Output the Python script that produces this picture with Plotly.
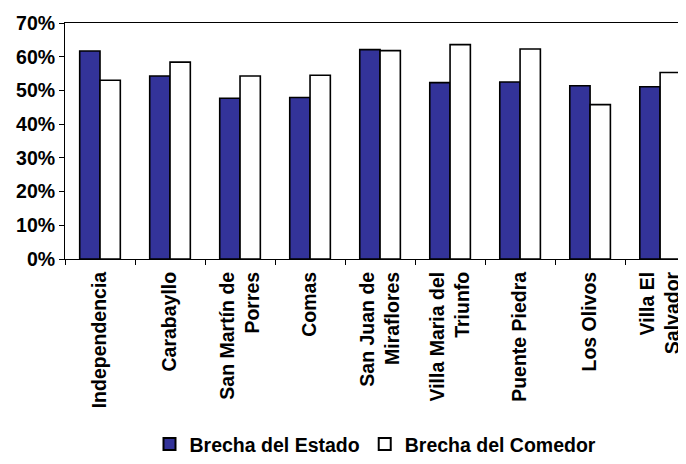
import plotly.graph_objects as go

distritos = [
    "Independencia", "Carabayllo", "San Martín de<br>Porres", "Comas",
    "San Juan de<br>Miraflores", "Villa Maria del<br>Triunfo", "Puente Piedra",
    "Los Olivos", "Villa El<br>Salvador",
]
brecha_estado = [0.617, 0.543, 0.477, 0.479, 0.621, 0.523, 0.525, 0.514, 0.511]
brecha_comedor = [0.530, 0.584, 0.543, 0.545, 0.618, 0.636, 0.623, 0.458, 0.553]

AZUL = "#333399"
FONT = "Liberation Sans, Arial, sans-serif"
BOLD = dict(family=FONT, size=19.5, color="black", weight="bold")

fig = go.Figure()
fig.add_trace(go.Bar(
    x=distritos, y=brecha_estado, name="Brecha del Estado",
    marker=dict(color=AZUL, line=dict(color="black", width=1.6)),
))
fig.add_trace(go.Bar(
    x=distritos, y=brecha_comedor, name="Brecha del Comedor",
    marker=dict(color="white", line=dict(color="black", width=1.6)),
))

# la pagina tiene 8px de margen en el body: se compensa aqui
fig.update_layout(
    width=678, height=456,
    margin=dict(l=57, r=0, t=15, b=199),
    paper_bgcolor="white", plot_bgcolor="white",
    barmode="group", bargap=0.42, bargroupgap=0,
    font=dict(family=FONT, size=19.5, color="black"),
    showlegend=True,
    legend=dict(
        orientation="h", x=0.5, xanchor="center", y=-0.785, yanchor="middle",
        font=BOLD, itemwidth=30, tracegroupgap=0,
        itemsizing="constant",
    ),
)
fig.update_xaxes(
    range=[-0.5, 8.37],
    tickangle=-90,
    tickfont=BOLD,
    ticklabelstandoff=4,
    showline=True, linecolor="black", linewidth=1, mirror=True,
    ticks="outside", ticklen=5, tickcolor="black", tickson="boundaries",
    showgrid=False, automargin=False,
)
fig.update_yaxes(
    range=[0, 0.7], dtick=0.1, tickformat=".0%",
    tickfont=BOLD,
    showline=True, linecolor="black", linewidth=1, mirror=True,
    ticks="outside", ticklen=5, tickcolor="black",
    showgrid=False, zeroline=False, automargin=False,
)

fig.write_html("out.html")
